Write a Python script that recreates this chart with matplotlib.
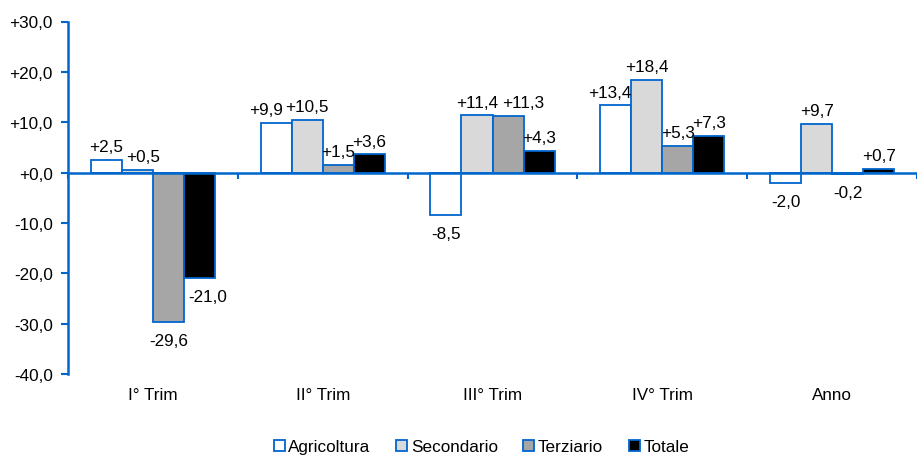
import numpy as np
import matplotlib.pyplot as plt
from matplotlib.ticker import FuncFormatter

plt.rcParams['font.family'] = ['Liberation Sans', 'DejaVu Sans']

# Data
categories = ['I° Trim', 'II° Trim', 'III° Trim', 'IV° Trim', 'Anno']
series_names = ['Agricoltura', 'Secondario', 'Terziario', 'Totale']
agricoltura = [2.5, 9.9, -8.5, 13.4, -2.0]
secondario = [0.5, 10.5, 11.4, 18.4, 9.7]
terziario = [-29.6, 1.5, 11.3, 5.3, -0.2]
totale = [-21.0, 3.6, 4.3, 7.3, 0.7]

fill_colors = ['white', '#d9d9d9', '#a6a6a6', 'black']
blue = '#0066cc'
fs = 12.3

# horizontal nudges (points) for labels that would collide, keyed (series, group)
label_nudge = {(1, 0): 4, (3, 0): 6, (0, 1): -7, (2, 2): 11, (0, 3): -4}


def fmt(v):
    return f"{v:+.1f}".replace('.', ',')


fig = plt.figure(figsize=(9.17, 4.56), dpi=100)
ax = fig.add_axes([68 / 917, 1 - 375 / 456, 1 - 68 / 917, 352.5 / 456])

x = np.arange(len(categories))
width = 0.183
all_series = [agricoltura, secondario, terziario, totale]

for i, (name, vals) in enumerate(zip(series_names, all_series)):
    pos = x + (i - 1.5) * width
    ax.bar(pos, vals, width, color=fill_colors[i], edgecolor=blue,
           linewidth=1.3, label=name, zorder=2)
    for j, (xp, v) in enumerate(zip(pos, vals)):
        dx = label_nudge.get((i, j), 0)
        if v >= 0:
            ax.annotate(fmt(v), (xp, v), xytext=(dx, 4), textcoords='offset points',
                        ha='center', va='bottom', fontsize=fs)
        else:
            ax.annotate(fmt(v), (xp, v), xytext=(dx, -8), textcoords='offset points',
                        ha='center', va='top', fontsize=fs)

ax.set_ylim(-40, 30)
ax.set_xlim(-0.5, len(categories) - 0.5)
ax.set_yticks(np.arange(-40, 31, 10))
ax.yaxis.set_major_formatter(FuncFormatter(lambda v, p: fmt(v)))
ax.tick_params(axis='y', direction='out', length=5, color=blue, width=1.5,
               labelsize=fs, pad=6)

# x axis sits at zero, ticks between groups
ax.spines['bottom'].set_position(('data', 0))
ax.spines['bottom'].set_color(blue)
ax.spines['bottom'].set_linewidth(1.8)
ax.spines['bottom'].set_zorder(3)
ax.spines['left'].set_color(blue)
ax.spines['left'].set_linewidth(1.8)
ax.spines['top'].set_visible(False)
ax.spines['right'].set_visible(False)
ax.set_xticks(np.arange(-0.5, len(categories), 1.0))
ax.tick_params(axis='x', direction='out', length=4, color=blue, width=1.5,
               labelbottom=False)

for xp, cat in zip(x, categories):
    ax.text(xp, -0.057, cat, transform=ax.get_xaxis_transform(),
            ha='center', va='center', fontsize=fs)

fig.legend(loc='center', bbox_to_anchor=(0.525, 0.018), ncol=4, frameon=False,
           fontsize=fs, handlelength=0.65, handleheight=0.65,
           handletextpad=0.2, columnspacing=1.5)

fig.savefig('out.png', dpi=100)
